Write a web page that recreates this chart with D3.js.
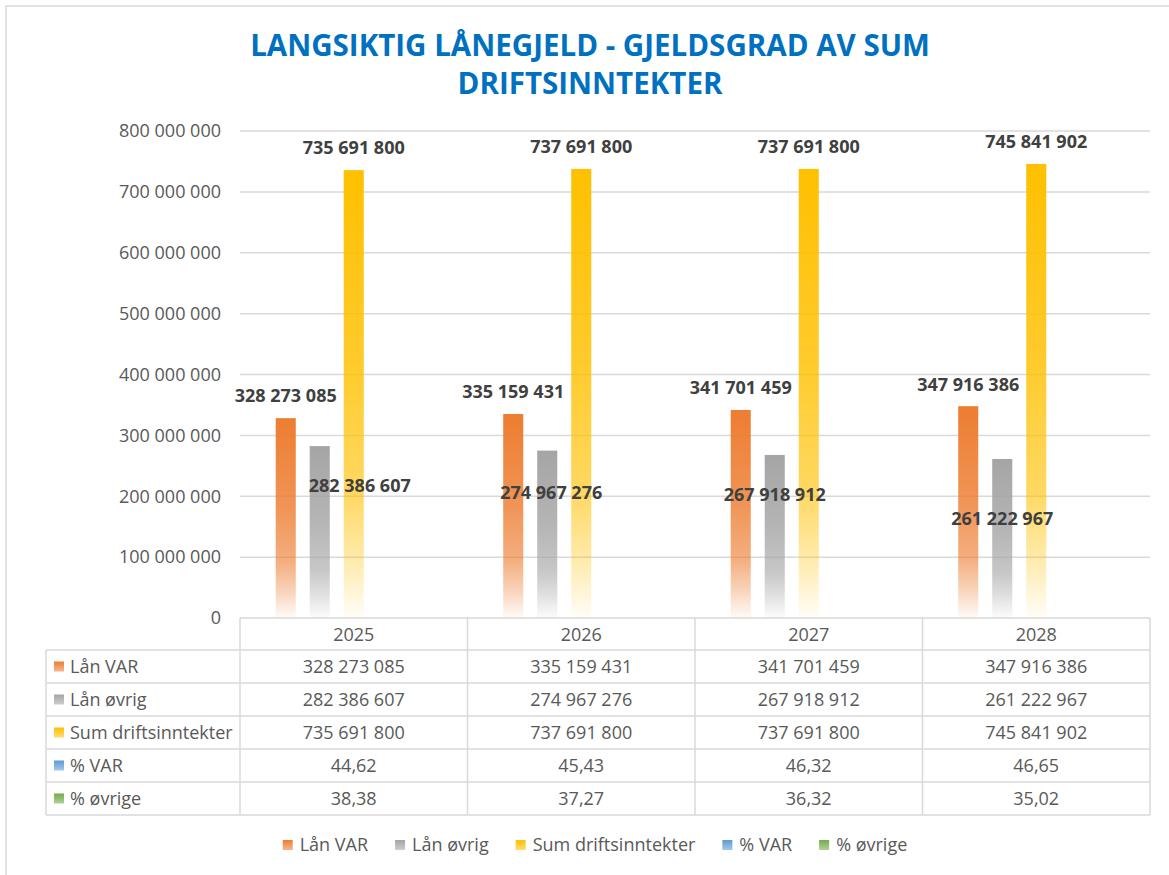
<!DOCTYPE html>
<html><head><meta charset="utf-8">
<script src="https://cdn.jsdelivr.net/npm/d3@7"></script>
<style>body{margin:0;background:#fff} svg{display:block}</style>
</head><body><svg id="c" width="1169" height="875"></svg>
<script>
// ---------- data ----------
const years = ["2025", "2026", "2027", "2028"];
const seriesNames = ["Lån VAR", "Lån øvrig", "Sum driftsinntekter", "% VAR", "% øvrige"];
const lanVAR = [328273085, 335159431, 341701459, 347916386];
const lanOvrig = [282386607, 274967276, 267918912, 261222967];
const sumDrift = [735691800, 737691800, 737691800, 745841902];
const pctVAR = [44.62, 45.43, 46.32, 46.65];
const pctOvrige = [38.38, 37.27, 36.32, 35.02];
const yTicks = [0, 100000000, 200000000, 300000000, 400000000, 500000000, 600000000, 700000000, 800000000];
const titleLines = ["LANGSIKTIG LÅNEGJELD - GJELDSGRAD AV SUM", "DRIFTSINNTEKTER"];

// ---------- styles / layout ----------
const seriesColors = ["#ED7D31", "#A5A5A5", "#FFC000", "#5B9BD5", "#70AD47"];
const seriesValues = [lanVAR, lanOvrig, sumDrift, pctVAR, pctOvrige];
const grayLabelDx = [40, 4, 0, 0];
const grayLabelDy = [40, 42, 40, 60];
const FONT = "'Open Sans', 'Liberation Sans', sans-serif";
const textCol = "#595959", lineCol = "#D9D9D9";

const svg = d3.select("#c");
const W = 1169, H = 875;
svg.append("rect").attr("x", 6).attr("y", 6).attr("width", W).attr("height", H)
  .attr("fill", "#fff").attr("stroke", lineCol).attr("stroke-width", 1.5);

const plotL = 240, plotR = 1150, plotT = 131, plotB = 618;
const x = d3.scaleBand().domain(years).range([plotL, plotR]).padding(0);
const xs = d3.scaleBand().domain(d3.range(seriesNames.length)).range([0, x.bandwidth()])
  .paddingInner(0.41).paddingOuter(1.05);
const y = d3.scaleLinear().domain([0, 800000000]).range([plotB, plotT]);

const fmtNum = v => d3.format(",")(v).replace(/,/g, " ");
const fmtPct = v => d3.format(".2f")(v).replace(".", ",");

// gradients
const defs = svg.append("defs");
seriesColors.forEach((c, i) => {
  const g = defs.append("linearGradient").attr("id", "g" + i)
    .attr("x1", 0).attr("y1", 0).attr("x2", 0).attr("y2", 1);
  [[0, 1], [0.45, 0.82], [0.72, 0.62], [0.86, 0.35], [1, 0.03]].forEach(([o, a]) =>
    g.append("stop").attr("offset", o).attr("stop-color", c).attr("stop-opacity", a));
  const s = defs.append("linearGradient").attr("id", "s" + i)
    .attr("x1", 0).attr("y1", 0).attr("x2", 0).attr("y2", 1);
  [[0, 1], [1, 0.55]].forEach(([o, a]) =>
    s.append("stop").attr("offset", o).attr("stop-color", c).attr("stop-opacity", a));
});

// title
const title = svg.append("g");
const t1 = title.append("text").attr("x", 590).attr("y", 56).attr("text-anchor", "middle")
  .attr("font-family", FONT).attr("font-weight", 700).attr("font-size", 28)
  .attr("fill", "#0070C0").text(titleLines[0]);
let fs = 28 * 680 / t1.node().getComputedTextLength();
t1.attr("font-size", fs);
title.append("text").attr("x", 590).attr("y", 94).attr("text-anchor", "middle")
  .attr("font-family", FONT).attr("font-weight", 700).attr("font-size", fs)
  .attr("fill", "#0070C0").text(titleLines[1]);

// gridlines + y labels
svg.append("g").selectAll("line").data(yTicks.filter(d => d > 0)).join("line")
  .attr("x1", plotL).attr("x2", plotR).attr("y1", d => y(d)).attr("y2", d => y(d))
  .attr("stroke", lineCol).attr("stroke-width", 1.5);
svg.append("g").selectAll("text").data(yTicks).join("text")
  .attr("x", 221).attr("y", d => y(d)).attr("dy", "0.35em").attr("text-anchor", "end")
  .attr("font-family", FONT).attr("font-size", 18).attr("fill", textCol)
  .text(d => fmtNum(d));

// bars
const bars = svg.append("g");
years.forEach((yr, j) => {
  seriesValues.forEach((vals, i) => {
    const v = vals[j];
    bars.append("rect")
      .attr("x", x(yr) + xs(i)).attr("width", xs.bandwidth())
      .attr("y", y(v)).attr("height", y(0) - y(v))
      .attr("fill", `url(#g${i})`);
  });
});

// data labels
const lab = svg.append("g").attr("font-family", FONT).attr("font-weight", 700)
  .attr("font-size", 18).attr("fill", "#404040").attr("text-anchor", "middle");
years.forEach((yr, j) => {
  [0, 2].forEach(i => {
    const v = seriesValues[i][j];
    lab.append("text").attr("x", x(yr) + xs(i) + xs.bandwidth() / 2)
      .attr("y", y(v) - 22).attr("dy", "0.35em").text(fmtNum(v));
  });
  const v = lanOvrig[j];
  lab.append("text").attr("x", x(yr) + xs(1) + xs.bandwidth() / 2 + grayLabelDx[j])
    .attr("y", y(v) + grayLabelDy[j]).attr("dy", "0.35em").text(fmtNum(v));
});

// data table
const tbl = svg.append("g");
const rowTop = 650, rowH = 33, tableL = 46, headTop = 618;
const nRows = seriesNames.length;
const tableB = rowTop + nRows * rowH;
tbl.append("line").attr("x1", plotL).attr("x2", plotR).attr("y1", headTop).attr("y2", headTop)
  .attr("stroke", lineCol).attr("stroke-width", 1.5);
d3.range(nRows + 1).forEach(r => {
  tbl.append("line").attr("x1", tableL).attr("x2", plotR)
    .attr("y1", rowTop + r * rowH).attr("y2", rowTop + r * rowH)
    .attr("stroke", lineCol).attr("stroke-width", 1.5);
});
tbl.append("line").attr("x1", tableL).attr("x2", tableL).attr("y1", rowTop).attr("y2", tableB)
  .attr("stroke", lineCol).attr("stroke-width", 1.5);
years.forEach(yr => {
  tbl.append("line").attr("x1", x(yr)).attr("x2", x(yr)).attr("y1", headTop).attr("y2", tableB)
    .attr("stroke", lineCol).attr("stroke-width", 1.5);
});
tbl.append("line").attr("x1", plotR).attr("x2", plotR).attr("y1", headTop).attr("y2", tableB)
  .attr("stroke", lineCol).attr("stroke-width", 1.5);
years.forEach(yr => {
  tbl.append("text").attr("x", x(yr) + x.bandwidth() / 2).attr("y", (headTop + rowTop) / 2 + 1)
    .attr("dy", "0.35em").attr("text-anchor", "middle")
    .attr("font-family", FONT).attr("font-size", 18).attr("fill", textCol).text(yr);
});
seriesNames.forEach((name, i) => {
  const cy = rowTop + i * rowH + rowH / 2;
  tbl.append("rect").attr("x", 54).attr("y", cy - 5).attr("width", 10).attr("height", 10)
    .attr("fill", `url(#s${i})`);
  tbl.append("text").attr("x", 70).attr("y", cy).attr("dy", "0.35em")
    .attr("font-family", FONT).attr("font-size", 18).attr("fill", textCol).text(name);
  years.forEach((yr, j) => {
    const v = seriesValues[i][j];
    tbl.append("text").attr("x", x(yr) + x.bandwidth() / 2).attr("y", cy).attr("dy", "0.35em")
      .attr("text-anchor", "middle").attr("font-family", FONT).attr("font-size", 18)
      .attr("fill", textCol).text(i < 3 ? fmtNum(v) : fmtPct(v));
  });
});

// legend
const leg = svg.append("g");
let lx = 0;
const gap = 27;
seriesNames.forEach((name, i) => {
  const g = leg.append("g").attr("transform", `translate(${lx},0)`);
  g.append("rect").attr("x", 0).attr("y", -5).attr("width", 10).attr("height", 10)
    .attr("fill", `url(#s${i})`);
  const t = g.append("text").attr("x", 17).attr("y", 0).attr("dy", "0.35em")
    .attr("font-family", FONT).attr("font-size", 18).attr("fill", textCol).text(name);
  lx += 17 + t.node().getComputedTextLength() + gap;
});
const legW = lx - gap;
leg.attr("transform", `translate(${595 - legW / 2},845)`);
</script></body></html>
